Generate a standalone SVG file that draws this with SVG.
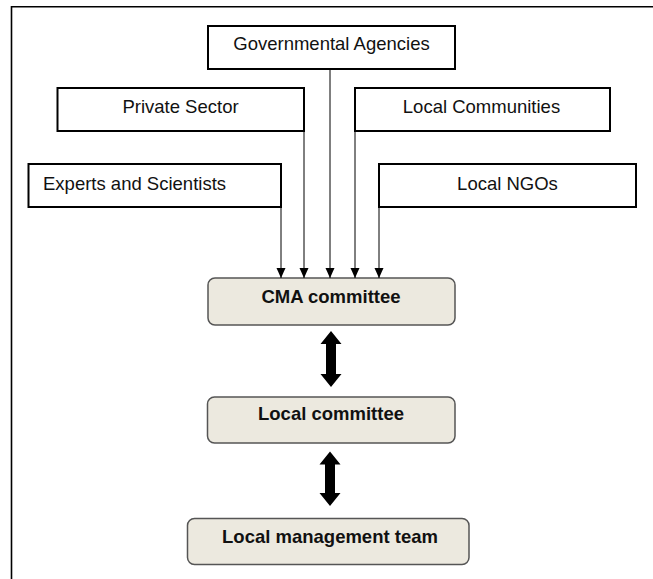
<svg xmlns="http://www.w3.org/2000/svg" width="653" height="579" viewBox="0 0 653 579">
  <style>
    .frame { fill: none; stroke: #000; stroke-width: 1.6; }
    .src rect { fill: #fff; stroke: #000; stroke-width: 2; }
    .src text { font-family: "Liberation Sans", Arial, sans-serif; font-size: 18.5px; fill: #111; }
    .tier rect { fill: #ece9df; stroke: #555; stroke-width: 1.5; }
    .tier text { font-family: "Liberation Sans", Arial, sans-serif; font-size: 18.5px; font-weight: bold; fill: #111; text-anchor: middle; }
    .link { fill: none; stroke: #000; stroke-width: 1; marker-end: url(#tip); }
    .dbl { fill: #000; }
  </style>
  <defs>
    <marker id="tip" viewBox="0 0 10 10" refX="10" refY="5" markerWidth="10" markerHeight="10" markerUnits="userSpaceOnUse" orient="auto">
      <path d="M0,0.5 L10,5 L0,9.5 Z" fill="#000"/>
    </marker>
  </defs>

  <rect width="653" height="579" fill="#fff"/>

  <!-- open frame: top and left edges -->
  <path class="frame" d="M11.5,579 V6.8 H653"/>

  <!-- source bodies -->
  <g id="governmental-agencies" class="src">
    <rect x="208" y="26" width="247" height="43"/>
    <text x="331.5" y="49.5" text-anchor="middle">Governmental Agencies</text>
  </g>
  <g id="private-sector" class="src">
    <rect x="57.5" y="88" width="246.5" height="43"/>
    <text x="180.5" y="112.5" text-anchor="middle">Private Sector</text>
  </g>
  <g id="local-communities" class="src">
    <rect x="355" y="88" width="255" height="43"/>
    <text x="481.5" y="112.5" text-anchor="middle">Local Communities</text>
  </g>
  <g id="experts-and-scientists" class="src">
    <rect x="28.5" y="164" width="252.5" height="43"/>
    <text x="43" y="189.5">Experts and Scientists</text>
  </g>
  <g id="local-ngos" class="src">
    <rect x="379" y="164" width="257" height="43"/>
    <text x="507.5" y="189.5" text-anchor="middle">Local NGOs</text>
  </g>

  <!-- management tiers -->
  <g id="cma-committee" class="tier">
    <rect x="208" y="278" width="247" height="47" rx="7"/>
    <text x="331" y="303">CMA committee</text>
  </g>
  <g id="local-committee" class="tier">
    <rect x="207.5" y="397" width="247.5" height="46" rx="7"/>
    <text x="331" y="419.5">Local committee</text>
  </g>
  <g id="local-management-team" class="tier">
    <rect x="187.5" y="518.5" width="281.5" height="46" rx="7"/>
    <text x="330" y="543">Local management team</text>
  </g>

  <!-- connectors -->
  <g id="connectors">
    <line class="link" x1="281" y1="207" x2="281" y2="278"/>
    <line class="link" x1="304" y1="131" x2="304" y2="278"/>
    <line class="link" x1="330" y1="69" x2="330" y2="278"/>
    <line class="link" x1="355" y1="131" x2="355" y2="278"/>
    <line class="link" x1="379" y1="207" x2="379" y2="278"/>
    <!-- two-way links between tiers -->
    <path class="dbl" d="M331,331 L341.5,344 L336,344 L336,374 L341.5,374 L331,387 L320.5,374 L326,374 L326,344 L320.5,344 Z"/>
    <path class="dbl" d="M330,451.5 L340.5,464.5 L335,464.5 L335,493 L340.5,493 L330,506 L319.5,493 L325,493 L325,464.5 L319.5,464.5 Z"/>
  </g>
</svg>
